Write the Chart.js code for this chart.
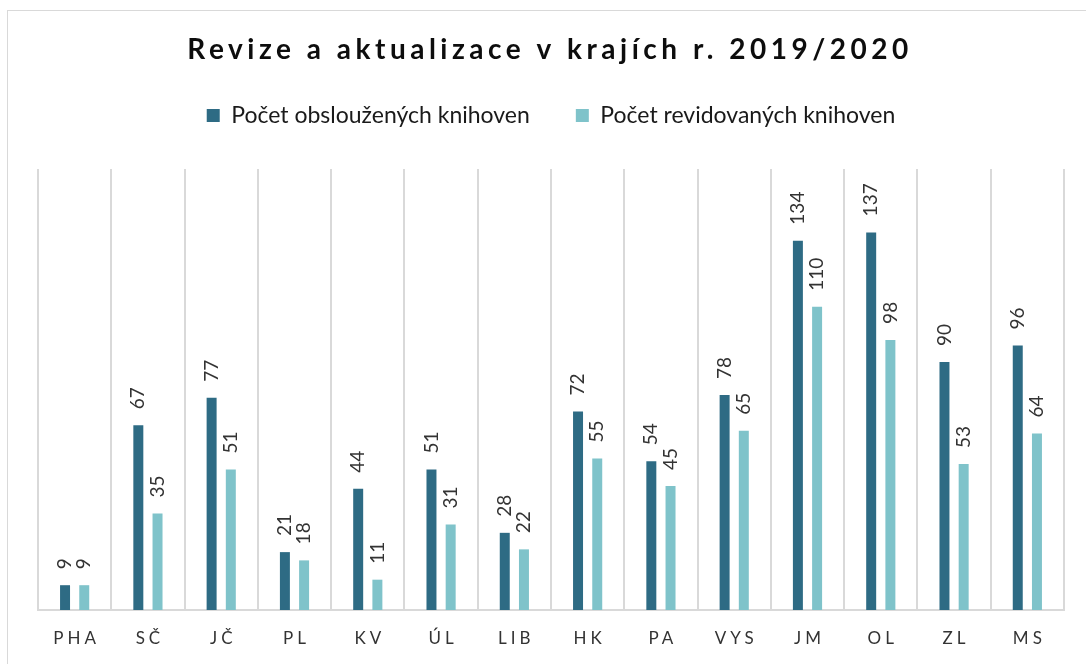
<!DOCTYPE html>
<html>
<head>
<meta charset="utf-8">
<script src="https://cdn.jsdelivr.net/npm/chart.js@4.4.1/dist/chart.umd.min.js"></script>
<style>
  html, body { margin: 0; padding: 0; background: #fff; overflow: hidden; }
  #frame { position: absolute; left: 7px; top: 10px; width: 1200px; height: 800px; border: 1px solid #d9d9d9; }
  #chart { position: absolute; left: 0; top: 0; }
</style>
</head>
<body>
<div id="frame"></div>
<canvas id="chart" width="1086" height="664"></canvas>
<script>
// Chart data
const regions = ['PHA', 'SČ', 'JČ', 'PL', 'KV', 'ÚL', 'LIB', 'HK', 'PA', 'VYS', 'JM', 'OL', 'ZL', 'MS'];
const servedLibraries = [9, 67, 77, 21, 44, 51, 28, 72, 54, 78, 134, 137, 90, 96];
const revisedLibraries = [9, 35, 51, 18, 11, 31, 22, 55, 45, 65, 110, 98, 53, 64];
const seriesNames = ['Počet obsloužených knihoven', 'Počet revidovaných knihoven'];
const chartTitle = 'Revize a aktualizace v krajích r. 2019/2020';

const textColor = '#333';

// Make room below the legend before the plot starts
const legendSpace = {
    id: 'legendSpace',
    beforeInit(chart) {
        const origFit = chart.legend.fit;
        chart.legend.fit = function () {
            origFit.bind(chart.legend)();
            this.height = 111;
        };
    }
};

// Title, category labels and value labels (with letter spacing)
const customText = {
    id: 'customText',
    afterDraw(chart) {
        const ctx = chart.ctx;
        const xScale = chart.scales.x;

        // title
        ctx.save();
        ctx.font = 'bold 28px Lato';
        ctx.letterSpacing = '4.5px';
        ctx.fillStyle = '#0d0d0d';
        ctx.textAlign = 'center';
        ctx.textBaseline = 'middle';
        ctx.fillText(chartTitle, 550, 50);
        ctx.restore();

        // category labels
        ctx.save();
        ctx.font = '17px Lato';
        ctx.letterSpacing = '4px';
        ctx.fillStyle = textColor;
        ctx.textAlign = 'center';
        ctx.textBaseline = 'middle';
        regions.forEach((name, i) => {
            ctx.fillText(name, xScale.getPixelForValue(i) + 2, 639);
        });
        ctx.restore();

        // value labels above bars, rotated
        ctx.save();
        ctx.font = '19px Lato';
        ctx.fillStyle = textColor;
        ctx.textAlign = 'left';
        ctx.textBaseline = 'middle';
        chart.data.datasets.forEach((ds, di) => {
            chart.getDatasetMeta(di).data.forEach((bar, i) => {
                ctx.save();
                ctx.translate(bar.x, bar.y - 16);
                ctx.rotate(-Math.PI / 2);
                ctx.fillText(String(ds.data[i]), 0, 0);
                ctx.restore();
            });
        });
        ctx.restore();
    }
};

function drawChart() {
    const ctx = document.getElementById('chart').getContext('2d');
    new Chart(ctx, {
        type: 'bar',
        data: {
            labels: regions,
            datasets: [
                { label: seriesNames[0], data: servedLibraries, backgroundColor: '#2e6b84' },
                { label: seriesNames[1], data: revisedLibraries, backgroundColor: '#7fc3ca' }
            ]
        },
        options: {
            responsive: false,
            animation: false,
            categoryPercentage: 0.524,
            barPercentage: 0.52,
            layout: {
                padding: { top: 58, left: 38, right: 22, bottom: 54 }
            },
            plugins: {
                title: { display: false },
                tooltip: { enabled: false },
                legend: {
                    position: 'top',
                    labels: {
                        boxWidth: 13,
                        boxHeight: 13,
                        padding: 46,
                        color: '#1a1a1a',
                        font: { family: 'Lato', size: 23 }
                    }
                }
            },
            scales: {
                x: {
                    grid: { color: '#d9d9d9', lineWidth: 2, drawTicks: false },
                    border: { color: '#d9d9d9', width: 2 },
                    ticks: { display: false }
                },
                y: {
                    display: false,
                    min: 0,
                    max: 160
                }
            }
        },
        plugins: [legendSpace, customText]
    });
}

Promise.all([
    document.fonts.load('bold 28px Lato'),
    document.fonts.load('19px Lato')
]).then(drawChart, drawChart);
</script>
</body>
</html>
